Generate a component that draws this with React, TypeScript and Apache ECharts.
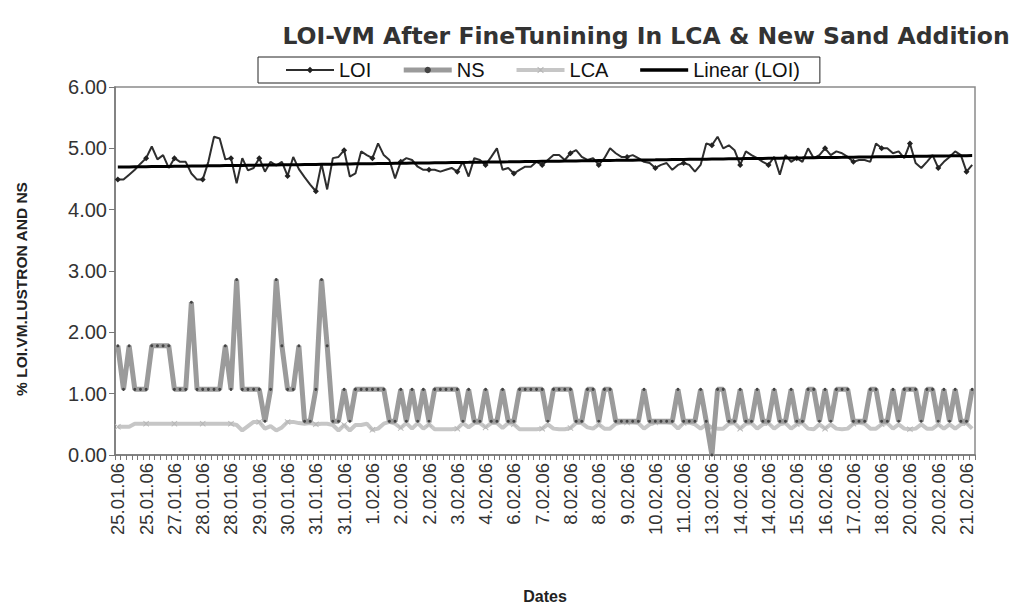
import React, { useEffect, useRef } from "react";
import * as echarts from "echarts";

const dateLabels = [
  "25.01.06", "25.01.06", "27.01.06", "28.01.06", "28.01.06", "29.01.06", "30.01.06", "31.01.06",
  "31.01.06", "1.02.06", "2.02.06", "2.02.06", "3.02.06", "4.02.06", "6.02.06", "7.02.06",
  "8.02.06", "8.02.06", "9.02.06", "10.02.06", "11.02.06", "13.02.06", "14.02.06", "14.02.06",
  "15.02.06", "16.02.06", "17.02.06", "18.02.06", "20.02.06", "20.02.06", "21.02.06",
];

const loi = [
  4.49, 4.49, 4.57, 4.65, 4.75, 4.84, 5.03, 4.82, 4.89, 4.68,
  4.84, 4.78, 4.78, 4.59, 4.49, 4.49, 4.78, 5.19, 5.16, 4.82,
  4.84, 4.43, 4.84, 4.64, 4.68, 4.84, 4.62, 4.78, 4.72, 4.78,
  4.55, 4.86, 4.66, 4.53, 4.41, 4.30, 4.75, 4.33, 4.84, 4.86,
  4.97, 4.54, 4.59, 4.95, 4.89, 4.84, 5.08, 4.89, 4.81, 4.51,
  4.78, 4.84, 4.81, 4.70, 4.65, 4.65, 4.65, 4.62, 4.65, 4.68,
  4.62, 4.78, 4.54, 4.84, 4.81, 4.73, 4.86, 5.00, 4.65, 4.68,
  4.59, 4.65, 4.70, 4.70, 4.78, 4.73, 4.81, 4.89, 4.89, 4.81,
  4.92, 4.97, 4.86, 4.81, 4.84, 4.73, 4.84, 5.00, 4.92, 4.86,
  4.86, 4.89, 4.84, 4.78, 4.76, 4.68, 4.73, 4.76, 4.65, 4.73,
  4.76, 4.73, 4.62, 4.73, 5.08, 5.05, 5.19, 5.00, 5.05, 4.97,
  4.73, 4.95, 4.89, 4.84, 4.78, 4.73, 4.86, 4.57, 4.89, 4.78,
  4.84, 4.78, 5.00, 4.84, 4.89, 5.00, 4.89, 4.95, 4.92, 4.86,
  4.78, 4.81, 4.81, 4.78, 5.08, 5.00, 5.00, 4.92, 4.95, 4.84,
  5.08, 4.76, 4.68, 4.78, 4.89, 4.68, 4.78, 4.86, 4.95, 4.89,
  4.62, 4.73,
];

const ns = [
  1.78, 1.07, 1.78, 1.07, 1.07, 1.07, 1.78, 1.78, 1.78, 1.78,
  1.07, 1.07, 1.07, 2.49, 1.07, 1.07, 1.07, 1.07, 1.07, 1.78,
  1.07, 2.86, 1.07, 1.07, 1.07, 1.07, 0.55, 1.07, 2.86, 1.78,
  1.07, 1.07, 1.78, 0.55, 0.55, 1.07, 2.86, 1.78, 0.55, 0.55,
  1.07, 0.55, 1.07, 1.07, 1.07, 1.07, 1.07, 1.07, 0.55, 0.55,
  1.07, 0.55, 1.07, 0.55, 1.07, 0.55, 1.07, 1.07, 1.07, 1.07,
  1.07, 0.55, 1.07, 0.55, 0.55, 1.07, 0.55, 0.55, 1.07, 0.55,
  0.55, 1.07, 1.07, 1.07, 1.07, 1.07, 0.55, 1.07, 1.07, 1.07,
  1.07, 0.55, 0.55, 1.07, 1.07, 0.55, 1.07, 1.07, 0.55, 0.55,
  0.55, 0.55, 0.55, 1.07, 0.55, 0.55, 0.55, 0.55, 0.55, 1.07,
  0.55, 0.55, 0.55, 1.07, 0.55, 0.0, 1.07, 1.07, 0.55, 0.55,
  1.07, 0.55, 0.55, 1.07, 0.55, 0.55, 1.07, 0.55, 0.55, 1.07,
  0.55, 0.55, 1.07, 1.07, 0.55, 1.07, 0.55, 1.07, 1.07, 1.07,
  0.55, 0.55, 0.55, 1.07, 1.07, 0.55, 0.55, 1.07, 0.55, 1.07,
  1.07, 1.07, 0.55, 1.07, 1.07, 0.55, 1.07, 0.55, 1.07, 0.55,
  0.55, 1.07,
];

const lca = [
  0.46, 0.46, 0.46, 0.51, 0.51, 0.51, 0.51, 0.51, 0.51, 0.51,
  0.51, 0.51, 0.51, 0.51, 0.51, 0.51, 0.51, 0.51, 0.51, 0.51,
  0.51, 0.49, 0.40, 0.47, 0.54, 0.54, 0.43, 0.47, 0.40, 0.45,
  0.54, 0.54, 0.52, 0.51, 0.52, 0.50, 0.51, 0.51, 0.49, 0.40,
  0.49, 0.40, 0.49, 0.49, 0.51, 0.41, 0.43, 0.51, 0.54, 0.51,
  0.44, 0.52, 0.43, 0.52, 0.43, 0.50, 0.42, 0.42, 0.42, 0.42,
  0.43, 0.52, 0.45, 0.52, 0.52, 0.45, 0.52, 0.52, 0.44, 0.52,
  0.50, 0.42, 0.42, 0.42, 0.42, 0.43, 0.50, 0.43, 0.42, 0.42,
  0.44, 0.52, 0.52, 0.45, 0.43, 0.50, 0.43, 0.43, 0.51, 0.53,
  0.53, 0.53, 0.52, 0.43, 0.50, 0.53, 0.53, 0.53, 0.52, 0.43,
  0.52, 0.53, 0.50, 0.43, 0.50, 0.45, 0.43, 0.43, 0.51, 0.52,
  0.43, 0.51, 0.52, 0.43, 0.50, 0.52, 0.43, 0.50, 0.52, 0.43,
  0.50, 0.52, 0.43, 0.42, 0.50, 0.43, 0.50, 0.43, 0.42, 0.43,
  0.51, 0.53, 0.51, 0.43, 0.43, 0.50, 0.52, 0.43, 0.50, 0.43,
  0.42, 0.43, 0.50, 0.43, 0.43, 0.50, 0.43, 0.50, 0.43, 0.50,
  0.52, 0.43,
];

const FONT = "'Liberation Sans', Arial, Helvetica, sans-serif";
const TITLE_FONT = "'DejaVu Sans', 'Liberation Sans', Arial, sans-serif";
const X_SYMBOL = "path://M0,1L1,0L5,4L9,0L10,1L6,5L10,9L9,10L5,6L1,10L0,9L4,5Z";

export default function App() {
  const ref = useRef<HTMLDivElement>(null);

  useEffect(() => {
    document.body.style.margin = "0";
    if (!ref.current) return;
    const chart = echarts.init(ref.current, undefined, { renderer: "svg" });

    const categories = loi.map((_, i) => `${dateLabels[Math.floor(i / 5)]}|${i}`);

    // least-squares linear trend of LOI (Excel "Linear (LOI)")
    const n = loi.length;
    let sx = 0, sy = 0, sxy = 0, sxx = 0;
    loi.forEach((y, i) => { sx += i; sy += y; sxy += i * y; sxx += i * i; });
    const slope = (n * sxy - sx * sy) / (n * sxx - sx * sx);
    const icpt = (sy - slope * sx) / n;
    const trend = loi.map((_, i) => +(icpt + slope * i).toFixed(4));

    chart.setOption({
      animation: false,
      backgroundColor: "#fff",
      title: {
        text: "LOI-VM After FineTunining In LCA & New Sand Addition",
        left: 641,
        textAlign: "center",
        top: 19,
        textStyle: { fontFamily: TITLE_FONT, fontSize: 23.5, fontWeight: "bold", color: "#333" },
      },
      graphic: [
        {
          type: "text",
          x: 21,
          y: 289,
          rotation: Math.PI / 2,
          style: {
            text: "% LOI.VM.LUSTRON AND NS",
            fontFamily: FONT,
            fontSize: 15.5,
            fontWeight: "bold",
            fill: "#222",
            align: "center",
            verticalAlign: "middle",
          },
        },
      ],
      legend: {
        left: 258,
        top: 57,
        padding: [3, 20, 3, 27],
        itemGap: 30,
        itemWidth: 48,
        itemHeight: 8,
        borderColor: "#222",
        borderWidth: 1,
        backgroundColor: "#fff",
        data: [
          { name: "LOI", lineStyle: { width: 2 } },
          { name: "NS", itemStyle: { color: "#444" }, lineStyle: { width: 5 } },
          { name: "LCA", lineStyle: { width: 4 } },
          { name: "Linear (LOI)", itemStyle: { opacity: 0 }, lineStyle: { width: 3.5 } },
        ],
        textStyle: { fontFamily: FONT, fontSize: 20, color: "#111" },
      },
      grid: {
        left: 115,
        right: 51,
        top: 87,
        bottom: 159,
        show: true,
        borderColor: "#8a8a8a",
        borderWidth: 1.5,
      },
      xAxis: {
        type: "category",
        data: categories,
        boundaryGap: true,
        name: "Dates",
        nameLocation: "middle",
        nameGap: 133,
        nameTextStyle: { fontFamily: FONT, fontSize: 16, fontWeight: "bold", color: "#222" },
        axisLine: { lineStyle: { color: "#777", width: 1.5 } },
        axisTick: { show: true, interval: 0, length: 5, lineStyle: { color: "#777" } },
        axisLabel: {
          interval: 4,
          rotate: 90,
          fontFamily: FONT,
          fontSize: 18.5,
          color: "#333",
          margin: 8,
          formatter: (v: string) => v.split("|")[0],
        },
        splitLine: { show: false },
      },
      yAxis: {
        type: "value",
        min: 0,
        max: 6,
        interval: 1,
        axisLine: { show: true, lineStyle: { color: "#777", width: 1.5 } },
        axisTick: { show: true, length: 6, lineStyle: { color: "#777" } },
        axisLabel: {
          fontFamily: FONT,
          fontSize: 20,
          color: "#333",
          margin: 8,
          formatter: (v: number) => v.toFixed(2),
        },
        splitLine: { show: false },
      },
      series: [
        {
          name: "LOI",
          type: "line",
          data: loi,
          z: 4,
          symbol: "diamond",
          symbolSize: 6,
          lineStyle: { color: "#2e2e2e", width: 2 },
          itemStyle: { color: "#222" },
        },
        {
          name: "NS",
          type: "line",
          data: ns,
          z: 3,
          symbol: "circle",
          symbolSize: 3,
          lineStyle: { color: "#9b9b9b", width: 5 },
          itemStyle: { color: "#444" },
        },
        {
          name: "LCA",
          type: "line",
          data: lca,
          z: 2,
          symbol: X_SYMBOL,
          symbolSize: 6,
          lineStyle: { color: "#c6c6c6", width: 4 },
          itemStyle: { color: "#b5b5b5" },
        },
        {
          name: "Linear (LOI)",
          type: "line",
          data: trend,
          z: 5,
          symbol: "none",
          lineStyle: { color: "#000", width: 3 },
          itemStyle: { color: "#000" },
        },
      ],
    });

    return () => chart.dispose();
  }, []);

  return <div ref={ref} style={{ width: 1026, height: 614 }} />;
}
